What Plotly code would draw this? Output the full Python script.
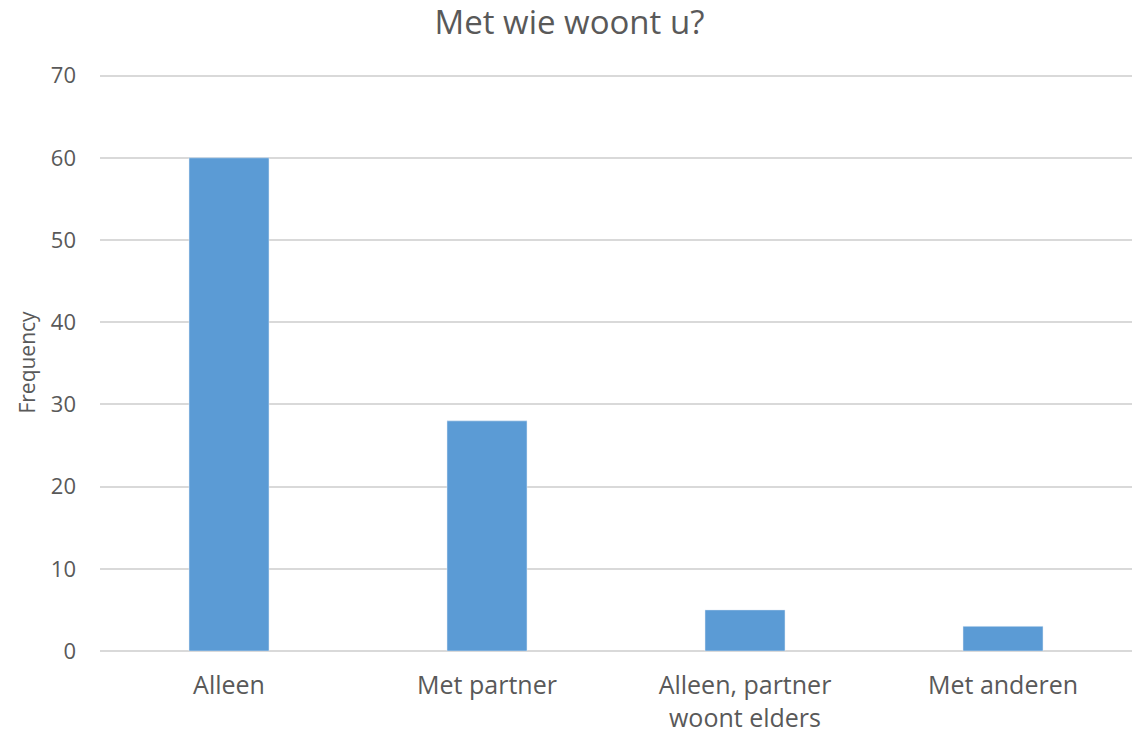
import plotly.graph_objects as go

categories = ["Alleen", "Met partner", "Alleen, partner<br>woont elders", "Met anderen"]
frequency = [60, 28, 5, 3]
y_ticks = [0, 10, 20, 30, 40, 50, 60, 70]

fig = go.Figure(go.Bar(x=categories, y=frequency, marker_color="#5B9BD5", width=0.31))

fig.update_layout(
    width=1139, height=733,
    margin=dict(l=100, r=7, t=74, b=82, autoexpand=False),
    paper_bgcolor="white", plot_bgcolor="white",
    font=dict(family="Open Sans", color="#595959", size=22),
    title=dict(text="Met wie woont u?", x=0.5, xanchor="center", y=0.969, yanchor="middle",
               font=dict(size=33, color="#595959")),
    showlegend=False,
)
fig.update_yaxes(range=[0, 70.2], tickvals=y_ticks, showgrid=True, gridcolor="#D9D9D9", gridwidth=1.5,
                 zeroline=True, zerolinecolor="#D9D9D9", zerolinewidth=1.5, showline=False,
                 ticklabelstandoff=23, tickfont=dict(size=22), automargin=False,
                 title=dict(text="Frequency", font=dict(size=21), standoff=9))
fig.update_xaxes(showgrid=False, showline=False, ticks="", ticklabelstandoff=17, tickfont=dict(size=25),
                 automargin=False)

fig.write_html("out.html", config={"displayModeBar": False},
               post_script="document.body.style.margin='0';document.body.style.overflow='hidden';")
